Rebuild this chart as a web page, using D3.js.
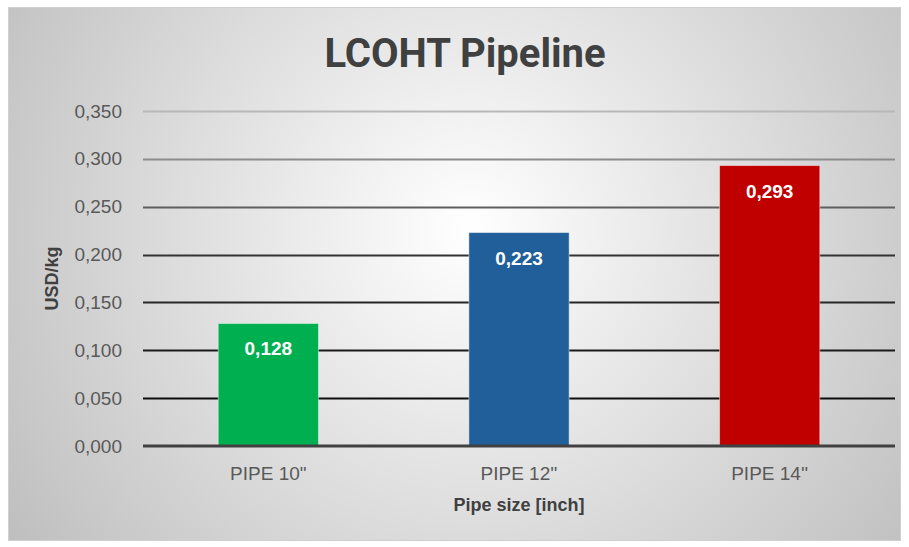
<!DOCTYPE html>
<html>
<head>
<meta charset="utf-8">
<script src="https://cdn.jsdelivr.net/npm/d3@7"></script>
<style>
  body { margin: 0; background: #fff; }
  svg { display: block; }
</style>
</head>
<body>
<div id="chart"></div>
<script>
const categories = ['PIPE 10"', "PIPE 12''", "PIPE 14''"];
const values = [0.128, 0.223, 0.293];
const barColors = ["#00b050", "#215f9a", "#c00000"];
const yTicks = [0, 0.05, 0.1, 0.15, 0.2, 0.25, 0.3, 0.35];

const W = 909, H = 547;
const margin = { top: 111, right: 14, bottom: 101, left: 143 };
const width = W - margin.left - margin.right;
const height = H - margin.top - margin.bottom;
const font = "'Liberation Sans', Arial, sans-serif";

const svg = d3.select("#chart").append("svg")
    .attr("width", W)
    .attr("height", H);

// Background radial gradient
const defs = svg.append("defs");
const bg = defs.append("radialGradient")
    .attr("id", "bg")
    .attr("gradientUnits", "userSpaceOnUse")
    .attr("cx", 470).attr("cy", 230).attr("r", 560);
bg.append("stop").attr("offset", "0%").attr("stop-color", "#ffffff");
bg.append("stop").attr("offset", "100%").attr("stop-color", "#bebebe");

svg.append("rect")
    .attr("x", 8.5).attr("y", 7.5)
    .attr("width", 892).attr("height", 533)
    .attr("fill", "url(#bg)")
    .attr("stroke", "#d0d0d0");

const g = svg.append("g")
    .attr("transform", `translate(${margin.left},${margin.top})`);

const x = d3.scaleBand()
    .domain(categories)
    .range([0, width])
    .paddingInner(0.6)
    .paddingOuter(0.3);

const y = d3.scaleLinear()
    .domain([0, 0.35])
    .range([height, 0]);

const gridColor = d3.scaleLinear()
    .domain([0, 0.2, 0.35])
    .range(["#000000", "#333333", "#b8b8b8"]);

// Grid lines
g.append("g")
    .selectAll("line")
    .data(yTicks.filter(d => d > 0))
    .enter().append("line")
    .attr("x1", 0).attr("x2", width)
    .attr("y1", d => Math.round(y(d)) + 0.5)
    .attr("y2", d => Math.round(y(d)) + 0.5)
    .attr("stroke", d => gridColor(d))
    .attr("stroke-width", 2);

// Y axis labels
const yAxis = g.append("g")
    .call(d3.axisLeft(y).tickValues(yTicks).tickSize(0).tickPadding(21)
        .tickFormat(d => d3.format(".3f")(d).replace(".", ",")));
yAxis.select(".domain").remove();
yAxis.selectAll("text")
    .style("font-family", font)
    .style("font-size", "19px")
    .attr("fill", "#595959");

// Bars
g.selectAll(".bar")
    .data(values)
    .enter().append("rect")
    .attr("class", "bar")
    .attr("x", (d, i) => x(categories[i]))
    .attr("y", d => y(d))
    .attr("width", x.bandwidth())
    .attr("height", d => height - y(d))
    .attr("fill", (d, i) => barColors[i])
    .attr("stroke", "rgba(255,255,255,0.45)")
    .attr("stroke-width", 1);

// Value labels
g.selectAll(".val")
    .data(values)
    .enter().append("text")
    .attr("class", "val")
    .attr("x", (d, i) => x(categories[i]) + x.bandwidth() / 2)
    .attr("y", d => y(d) + 32)
    .attr("text-anchor", "middle")
    .style("font-family", font)
    .style("font-weight", "bold")
    .style("font-size", "19px")
    .attr("fill", "#ffffff")
    .text(d => d3.format(".3f")(d).replace(".", ","));

// Baseline
g.append("line")
    .attr("x1", 0).attr("x2", width)
    .attr("y1", height).attr("y2", height)
    .attr("stroke", "#404040")
    .attr("stroke-width", 3);

// X axis labels
const xAxis = g.append("g")
    .attr("transform", `translate(0,${height})`)
    .call(d3.axisBottom(x).tickSize(0));
xAxis.select(".domain").remove();
xAxis.selectAll("text")
    .attr("y", 34)
    .attr("dy", null)
    .style("font-family", font)
    .style("font-size", "19px")
    .attr("fill", "#595959");

// Title
svg.append("text")
    .attr("x", 465)
    .attr("y", 67)
    .attr("text-anchor", "middle")
    .style("font-family", "Roboto, 'Noto Sans', sans-serif")
    .style("font-weight", "bold")
    .style("font-size", "40px")
    .attr("fill", "#404040")
    .text("LCOHT Pipeline");

// X axis title
svg.append("text")
    .attr("x", margin.left + width / 2)
    .attr("y", 511)
    .attr("text-anchor", "middle")
    .style("font-family", font)
    .style("font-weight", "bold")
    .style("font-size", "18px")
    .attr("fill", "#404040")
    .text("Pipe size [inch]");

// Y axis title
svg.append("text")
    .attr("transform", `translate(58,${margin.top + height / 2}) rotate(-90)`)
    .attr("text-anchor", "middle")
    .style("font-family", font)
    .style("font-weight", "bold")
    .style("font-size", "18px")
    .attr("fill", "#404040")
    .text("USD/kg");
</script>
</body>
</html>
